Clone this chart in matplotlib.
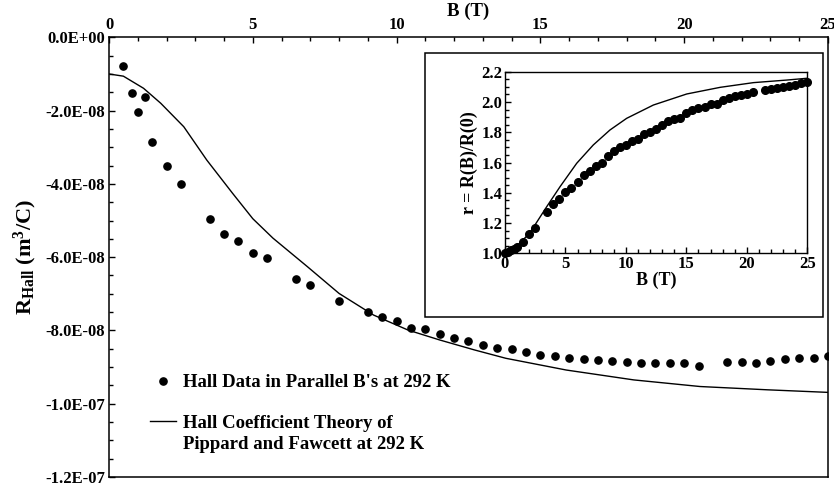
import matplotlib
matplotlib.use("Agg")
import matplotlib.pyplot as plt
from matplotlib.lines import Line2D
from matplotlib.patches import Rectangle
from matplotlib.ticker import MultipleLocator, FormatStrFormatter

plt.rcParams['font.family'] = ['Liberation Serif', 'DejaVu Serif']
plt.rcParams['font.weight'] = 'bold'
plt.rcParams['axes.labelweight'] = 'bold'
plt.rcParams['mathtext.fontset'] = 'custom'
plt.rcParams['mathtext.rm'] = 'Liberation Serif:bold'
plt.rcParams['mathtext.it'] = 'Liberation Serif:bold'
plt.rcParams['mathtext.bf'] = 'Liberation Serif:bold'

# main plot: Hall data (units of 1e-8 m^3/C)
b_hall = [0.5, 0.79, 1.0, 1.25, 1.5, 2.0, 2.5, 3.5, 4.0, 4.5, 5.0, 5.5, 6.5, 7.0, 8.0,
          9.0, 9.5, 10.0, 10.5, 11.0, 11.5, 12.0, 12.5, 13.0, 13.5, 14.0, 14.5, 15.0,
          15.5, 16.0, 16.5, 17.0, 17.5, 18.0, 18.5, 19.0, 19.5, 20.0, 20.5,
          21.5, 22.0, 22.5, 23.0, 23.5, 24.0, 24.5, 25.0]
r_hall = [-0.78, -1.51, -2.03, -1.62, -2.86, -3.50, -4.01, -4.96, -5.38, -5.55, -5.89,
          -6.01, -6.59, -6.76, -7.19, -7.50, -7.62, -7.75, -7.94, -7.96, -8.09, -8.20,
          -8.28, -8.40, -8.49, -8.51, -8.59, -8.67, -8.70, -8.74, -8.77, -8.81, -8.83,
          -8.86, -8.88, -8.90, -8.90, -8.89, -8.98, -8.85, -8.87, -8.88, -8.84, -8.79,
          -8.76, -8.75, -8.70]

# main plot: theory curve
b_theory = [0, 0.5, 1.2, 1.8, 2.6, 3.4, 4.3, 5.0, 5.7, 6.9, 8.0, 9.2, 10.4, 11.5,
            12.7, 13.8, 15.9, 18.25, 20.55, 22.9, 25]
r_theory = [-1.00, -1.06, -1.39, -1.80, -2.44, -3.35, -4.26, -4.95, -5.48, -6.26,
            -6.99, -7.58, -7.99, -8.26, -8.53, -8.76, -9.08, -9.35, -9.53, -9.62, -9.69]

# inset: r = R(B)/R(0)
b_ratio = [0, 0.25, 0.5, 0.75, 1.0, 1.5, 2.0, 2.5, 3.5, 4.0, 4.5, 5.0, 5.5, 6.0, 6.5,
           7.0, 7.5, 8.0, 8.5, 9.0, 9.5, 10.0, 10.5, 11.0, 11.5, 12.0, 12.5, 13.0,
           13.5, 14.0, 14.5, 15.0, 15.5, 16.0, 16.5, 17.0, 17.5, 18.0, 18.5, 19.0,
           19.5, 20.0, 20.5, 21.5, 22.0, 22.5, 23.0, 23.5, 24.0, 24.5, 25.0]
ratio = [1.00, 1.01, 1.02, 1.03, 1.045, 1.078, 1.128, 1.17, 1.27, 1.324, 1.36, 1.407,
         1.432, 1.472, 1.515, 1.545, 1.575, 1.60, 1.643, 1.676, 1.70, 1.716, 1.744,
         1.757, 1.788, 1.804, 1.82, 1.848, 1.876, 1.888, 1.892, 1.925, 1.947, 1.958,
         1.969, 1.985, 1.985, 2.013, 2.024, 2.04, 2.046, 2.051, 2.068, 2.079, 2.084,
         2.09, 2.101, 2.106, 2.112, 2.124, 2.134]
b_ratio_th = [0, 1.0, 2.0, 2.5, 3.45, 4.55, 5.93, 7.3, 8.68, 10.06, 12.27, 15.03,
              17.8, 20.55, 23.3, 25]
ratio_th = [1.0, 1.05, 1.13, 1.19, 1.308, 1.44, 1.595, 1.716, 1.815, 1.892, 1.98,
            2.053, 2.097, 2.128, 2.145, 2.157]

fig = plt.figure(figsize=(8.34, 4.88), dpi=100)
ax = fig.add_axes([0.1307, 0.0225, 0.8621, 0.901])

ax.plot(b_theory, r_theory, color='black', lw=1.0)
ax.plot(b_hall, r_hall, 'o', color='black', ms=5.2, ls='none')

ax.set_xlim(0, 25)
ax.set_ylim(-12, 0)
ax.xaxis.tick_top()
ax.xaxis.set_label_position('top')
ax.xaxis.set_major_locator(MultipleLocator(5))
ax.xaxis.set_minor_locator(MultipleLocator(1))
ax.yaxis.set_major_locator(MultipleLocator(2))
ax.yaxis.set_minor_locator(MultipleLocator(0.5))
ax.set_yticks([0, -2, -4, -6, -8, -10, -12])
ax.set_yticklabels(['0.0E+00', '-2.0E-08', '-4.0E-08', '-6.0E-08', '-8.0E-08',
                    '-1.0E-07', '-1.2E-07'])
ax.tick_params(which='both', direction='in', top=True, bottom=False, right=False,
               labelsize=12, pad=3)
ax.tick_params(which='major', length=4.5, width=1)
ax.tick_params(which='minor', length=3, width=1)
ax.set_xlabel('B (T)', fontsize=13.5, labelpad=1)
ax.set_ylabel(r'R$_{\rm Hall}$ (m$^{\rm 3}$/C)', fontsize=16, labelpad=4)
for s in ax.spines.values():
    s.set_linewidth(1.1)

leg_font = {'size': 13.5, 'weight': 'bold'}
h_dot = Line2D([], [], marker='o', color='black', ls='none', ms=5.2)
h_line = Line2D([], [], color='black', lw=1.0)
h_blank = Line2D([], [], color='none')
leg1 = ax.legend([h_dot], ["Hall Data in Parallel B's at 292 K"], loc='center left',
                 bbox_to_anchor=(0.057, 0.214), frameon=False, prop=leg_font,
                 handlelength=1.4, handletextpad=0.36, borderpad=0, borderaxespad=0)
ax.add_artist(leg1)
ax.legend([h_line, h_blank], ['Hall Coefficient Theory of',
                              'Pippard and Fawcett at 292 K'],
          loc='center left', bbox_to_anchor=(0.057, 0.098), frameon=False,
          prop=leg_font, handlelength=1.4, handletextpad=0.36, borderpad=0,
          borderaxespad=0, labelspacing=0.2)

# inset frame
fig.patches.append(Rectangle((0.5096, 0.3504), 0.4772, 0.541, transform=fig.transFigure,
                             facecolor='white', edgecolor='black', lw=1.1, zorder=3))

ins = fig.add_axes([0.6055, 0.4809, 0.3625, 0.3721], zorder=5)
ins.plot(b_ratio_th, ratio_th, color='black', lw=1.0)
ins.plot(b_ratio, ratio, 'o', color='black', ms=5.5, ls='none', clip_on=False)
ins.set_xlim(0, 25)
ins.set_ylim(1.0, 2.2)
ins.xaxis.set_major_locator(MultipleLocator(5))
ins.xaxis.set_minor_locator(MultipleLocator(1))
ins.yaxis.set_major_locator(MultipleLocator(0.2))
ins.yaxis.set_minor_locator(MultipleLocator(0.05))
ins.yaxis.set_major_formatter(FormatStrFormatter('%.1f'))
ins.tick_params(which='both', direction='in', labelsize=12, pad=2)
ins.tick_params(which='major', length=4.5, width=1)
ins.tick_params(which='minor', length=3, width=1)
ins.set_xlabel('B (T)', fontsize=13, labelpad=0)
ins.set_ylabel('r = R(B)/R(0)', fontsize=13, labelpad=2)
for s in ins.spines.values():
    s.set_linewidth(1.0)

fig.savefig('out.png', dpi=100)
